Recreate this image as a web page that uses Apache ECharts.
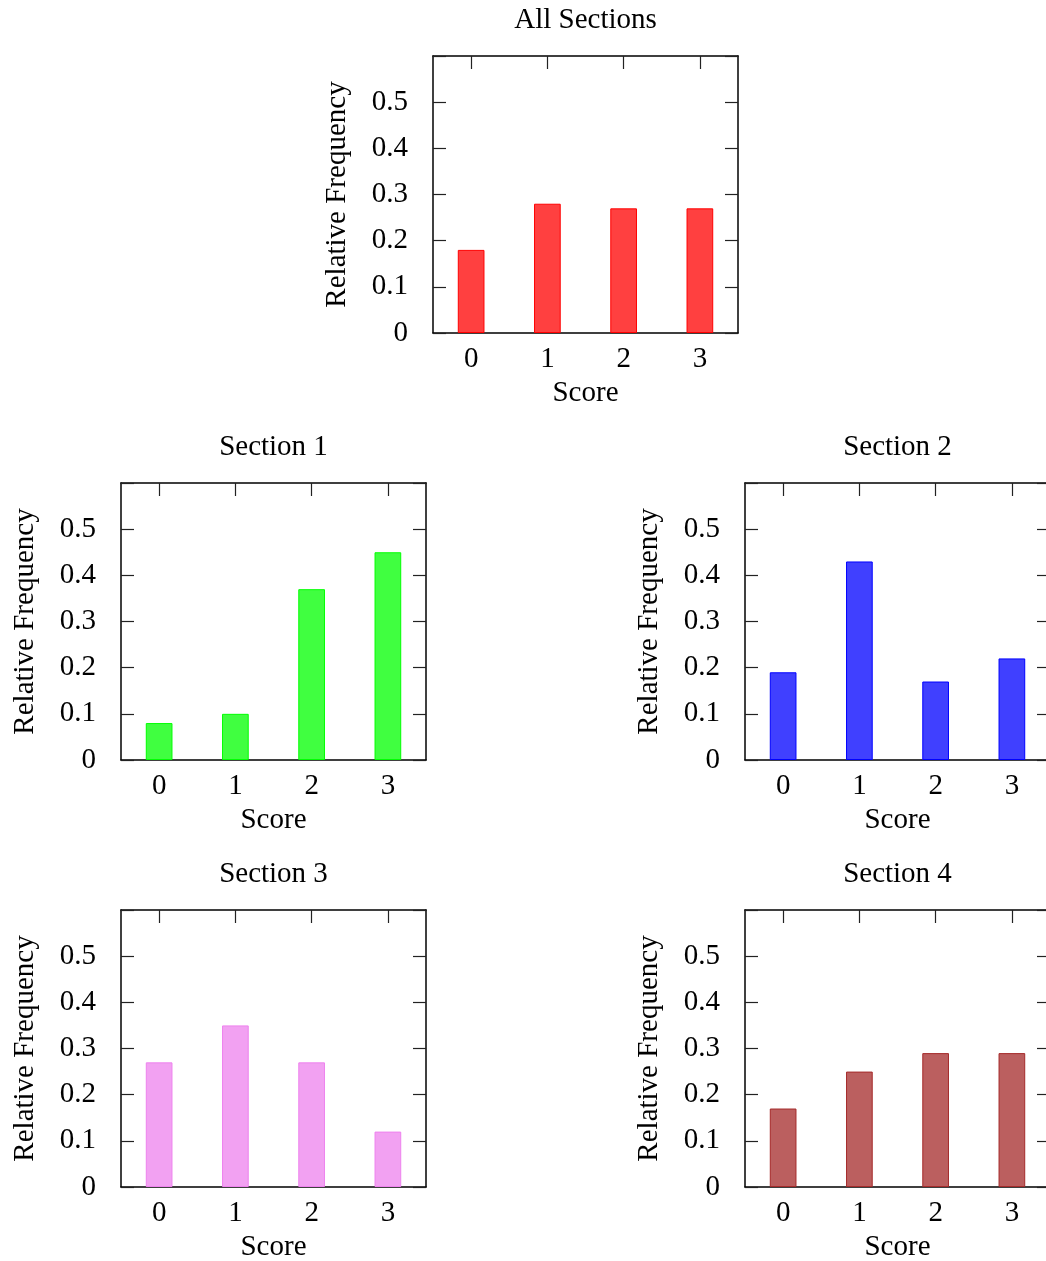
<!DOCTYPE html>
<html>
<head>
<meta charset="utf-8">
<script src="https://cdn.jsdelivr.net/npm/echarts@6/dist/echarts.min.js"></script>
<style>
html,body{margin:0;padding:0;background:#fff;}
#chart{width:1046px;height:1261px;}
</style>
</head>
<body>
<div id="chart"></div>
<script>
// ---- data ----
const categories = ['0', '1', '2', '3'];
const titles = ['All Sections', 'Section 1', 'Section 2', 'Section 3', 'Section 4'];
const allSections = [0.18, 0.28, 0.27, 0.27];
const section1 = [0.08, 0.10, 0.37, 0.45];
const section2 = [0.19, 0.43, 0.17, 0.22];
const section3 = [0.27, 0.35, 0.27, 0.12];
const section4 = [0.17, 0.25, 0.29, 0.29];
const yMin = 0, yMax = 0.6, yStep = 0.1;
const xName = 'Score';
const yName = 'Relative Frequency';

// ---- layout / style ----
const seriesData = [allSections, section1, section2, section3, section4];
const fills = ['#ff4040', '#40ff40', '#4040ff', '#f2a1f2', '#bb5f5f'];
const borders = ['#ff0000', '#00ff00', '#0000ff', '#ee82ee', '#a52a2a'];
const W = 305, H = 277;
const grids = [
  {left: 433, top: 56},
  {left: 121, top: 483},
  {left: 745, top: 483},
  {left: 121, top: 910},
  {left: 745, top: 910}
];
const FONT = 'Liberation Serif';
const FS = 29;
const lineStyle = {color: '#000', width: 1.5};
const tickStyle = {color: '#222', width: 1.2};

const option = {
  animation: false,
  backgroundColor: '#fff',
  title: [],
  grid: [],
  xAxis: [],
  yAxis: [],
  series: []
};

grids.forEach((g, i) => {
  option.grid.push({left: g.left, top: g.top, width: W, height: H, show: false,
    containLabel: false, outerBoundsMode: 'none'});
  option.title.push({
    text: titles[i],
    left: g.left + W / 2,
    top: g.top - 50,
    padding: 0,
    textAlign: 'center',
    textStyle: {fontFamily: FONT, fontSize: FS, fontWeight: 'normal', color: '#000'}
  });
  // primary x (bottom)
  option.xAxis.push({
    type: 'category', gridIndex: i, data: categories, position: 'bottom',
    name: xName, nameLocation: 'middle', nameGap: 46,
    nameTextStyle: {fontFamily: FONT, fontSize: FS, color: '#000'},
    axisLine: {show: true, onZero: false, lineStyle: lineStyle},
    axisTick: {show: true, inside: true, alignWithLabel: true, length: 13, lineStyle: tickStyle},
    axisLabel: {fontFamily: FONT, fontSize: FS, color: '#000', margin: 12},
    splitLine: {show: false}
  });
  // mirror x (top)
  option.xAxis.push({
    type: 'category', gridIndex: i, data: categories, position: 'top',
    axisLine: {show: true, onZero: false, lineStyle: lineStyle},
    axisTick: {show: true, inside: true, alignWithLabel: true, length: 13, lineStyle: tickStyle},
    axisLabel: {show: false},
    splitLine: {show: false}
  });
  // primary y (left)
  option.yAxis.push({
    type: 'value', gridIndex: i, position: 'left', min: yMin, max: yMax, interval: yStep,
    name: yName, nameLocation: 'middle', nameGap: 81,
    nameTextStyle: {fontFamily: FONT, fontSize: FS, color: '#000'},
    axisLine: {show: true, onZero: false, lineStyle: lineStyle},
    axisTick: {show: true, inside: true, length: 13, lineStyle: tickStyle},
    axisLabel: {
      fontFamily: FONT, fontSize: FS, color: '#000', margin: 25,
      formatter: v => (v > yMax - yStep / 2 ? '' : String(Math.round(v * 10) / 10))
    },
    splitLine: {show: false}
  });
  // mirror y (right)
  option.yAxis.push({
    type: 'value', gridIndex: i, position: 'right', min: yMin, max: yMax, interval: yStep,
    axisLine: {show: true, onZero: false, lineStyle: lineStyle},
    axisTick: {show: true, inside: true, length: 13, lineStyle: tickStyle},
    axisLabel: {show: false},
    splitLine: {show: false}
  });
  option.series.push({
    type: 'bar', name: titles[i], xAxisIndex: i * 2, yAxisIndex: i * 2,
    data: seriesData[i], barWidth: '35%',
    itemStyle: {color: fills[i], borderColor: borders[i], borderWidth: 1}
  });
});

const chart = echarts.init(document.getElementById('chart'), null, {renderer: 'canvas'});
chart.setOption(option);
</script>
</body>
</html>
